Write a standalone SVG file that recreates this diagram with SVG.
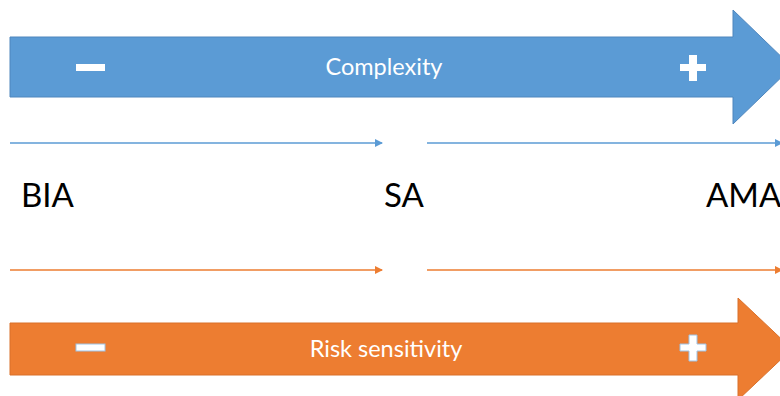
<svg xmlns="http://www.w3.org/2000/svg" width="780" height="396" viewBox="0 0 780 396">
<style>
.lbl{font-family:Lato,"Open Sans",sans-serif;fill:#000;font-size:33px}
.wt{font-family:Lato,"Open Sans",sans-serif;fill:#fff;font-size:23.5px;text-anchor:middle}
.sign{fill:#fff}
</style>
<defs>
<marker id="hb" markerWidth="8" markerHeight="8" refX="7" refY="4" orient="auto" markerUnits="userSpaceOnUse"><path d="M0,0 L8,4 L0,8 Z" fill="#5B9BD5"/></marker>
<marker id="ho" markerWidth="8" markerHeight="8" refX="7" refY="4" orient="auto" markerUnits="userSpaceOnUse"><path d="M0,0 L8,4 L0,8 Z" fill="#ED7D31"/></marker>
</defs>
<rect width="780" height="396" fill="#fff"/>
<g id="complexity">
<path d="M10,37 H733 V10 L792,67 L733,124 V97 H10 Z" fill="#5B9BD5" stroke="#4F86BD" stroke-width="1"/>
<rect class="sign" x="76" y="64" width="29" height="7"/>
<path class="sign" d="M689,55 h8 v9 h9 v7 h-9 v10 h-8 v-10 h-9 v-7 h9 Z"/>
<text class="wt" x="384" y="75">Complexity</text>
</g>
<g id="risk">
<path d="M10,323 H738 V298 L792,349 L738,400 V375 H10 Z" fill="#ED7D31" stroke="#D9702A" stroke-width="1"/>
<rect class="sign" x="76" y="344" width="29" height="7" stroke="#9DC3E6" stroke-width="1"/>
<path class="sign" d="M689,335 h8 v9 h9 v7 h-9 v10 h-8 v-10 h-9 v-7 h9 Z" stroke="#9DC3E6" stroke-width="1"/>
<text class="wt" x="386" y="357">Risk sensitivity</text>
</g>
<g id="BIA"><text class="lbl" x="21" y="207">BIA</text></g>
<g id="SA"><text class="lbl" x="384" y="207">SA</text></g>
<g id="AMA"><text class="lbl" x="706" y="207">AMA</text></g>
<g id="connectors" fill="none" stroke-width="1.5">
<line x1="10" y1="143" x2="382" y2="143" stroke="#5B9BD5" marker-end="url(#hb)"/>
<line x1="427" y1="143" x2="782" y2="143" stroke="#5B9BD5" marker-end="url(#hb)"/>
<line x1="10" y1="270" x2="382" y2="270" stroke="#ED7D31" marker-end="url(#ho)"/>
<line x1="427" y1="270" x2="782" y2="270" stroke="#ED7D31" marker-end="url(#ho)"/>
</g>
</svg>
